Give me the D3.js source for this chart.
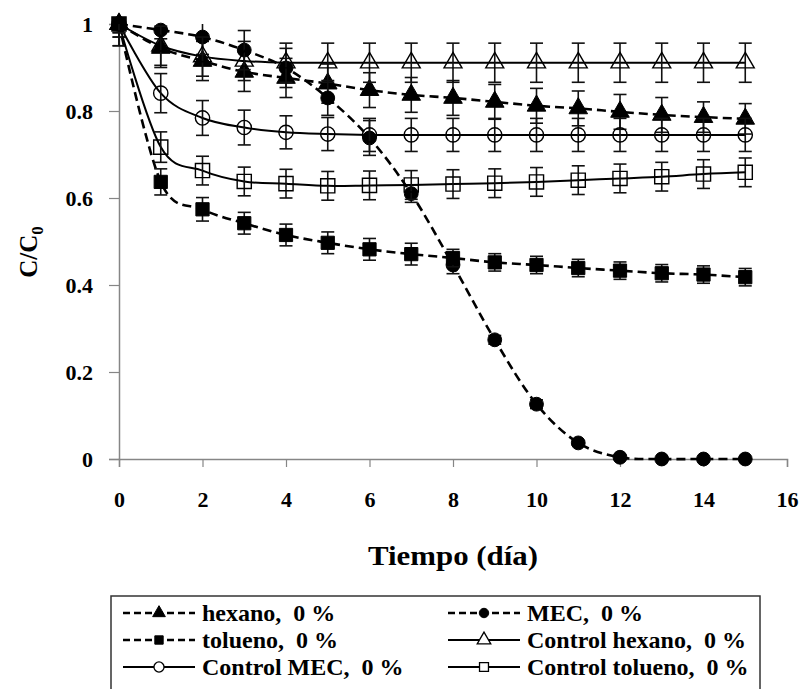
<!DOCTYPE html>
<html>
<head>
<meta charset="utf-8">
<script src="https://cdn.jsdelivr.net/npm/d3@7"></script>
<style>
  html, body { margin: 0; padding: 0; background: #fff; }
  svg { display: block; }
</style>
</head>
<body>
<div id="chart"></div>
<script>
// days sampled
const days = [0, 1, 2, 3, 4, 5, 6, 7, 8, 9, 10, 11, 12, 13, 14, 15];

// C/C0, one array per series
const hexano      = [1.0, 0.945, 0.915, 0.89, 0.876, 0.863, 0.848, 0.837, 0.83, 0.821, 0.812, 0.806, 0.798, 0.791, 0.786, 0.782];
const hexanoErr   = [0.05, 0.045, 0.045, 0.045, 0.045, 0.045, 0.04, 0.04, 0.04, 0.04, 0.04, 0.04, 0.04, 0.04, 0.035, 0.035];
const mec         = [1.0, 0.986, 0.97, 0.94, 0.899, 0.83, 0.738, 0.61, 0.446, 0.274, 0.126, 0.037, 0.004, 0.0, 0.0, 0.0];
const mecErr      = [0.03, 0.02, 0.04, 0.045, 0.045, 0.04, 0.04, 0.02, 0.02, 0.01, 0.01, 0.005, 0.005, 0.0, 0.0, 0.0];
const tolueno     = [1.0, 0.637, 0.574, 0.542, 0.515, 0.497, 0.482, 0.471, 0.462, 0.452, 0.446, 0.439, 0.433, 0.427, 0.424, 0.418];
const toluenoErr  = [0.05, 0.03, 0.027, 0.025, 0.025, 0.025, 0.025, 0.025, 0.02, 0.02, 0.02, 0.02, 0.02, 0.02, 0.02, 0.02];
const ctlHexano   = [1.0, 0.95, 0.925, 0.915, 0.911, 0.911, 0.911, 0.911, 0.911, 0.911, 0.911, 0.911, 0.911, 0.911, 0.911, 0.911];
const ctlHexErr   = [0.03, 0.045, 0.045, 0.045, 0.045, 0.045, 0.045, 0.045, 0.045, 0.045, 0.045, 0.045, 0.045, 0.045, 0.045, 0.045];
const ctlMec      = [1.0, 0.841, 0.784, 0.762, 0.751, 0.747, 0.745, 0.745, 0.745, 0.745, 0.745, 0.745, 0.745, 0.745, 0.745, 0.745];
const ctlMecErr   = [0.02, 0.045, 0.04, 0.04, 0.038, 0.038, 0.038, 0.038, 0.038, 0.038, 0.038, 0.038, 0.038, 0.038, 0.038, 0.038];
const ctlTolueno  = [1.0, 0.717, 0.663, 0.638, 0.633, 0.628, 0.629, 0.63, 0.632, 0.634, 0.637, 0.641, 0.645, 0.649, 0.655, 0.659];
const ctlTolErr   = [0.02, 0.035, 0.033, 0.033, 0.033, 0.033, 0.033, 0.033, 0.033, 0.033, 0.033, 0.033, 0.033, 0.033, 0.033, 0.033];

const xTicks = [0, 2, 4, 6, 8, 10, 12, 14, 16];
const yTicks = [0, 0.2, 0.4, 0.6, 0.8, 1];

const series = [
  { name: "hexano, 0 %", values: hexano, err: hexanoErr, dashed: true, symbol: "triangle", filled: true },
  { name: "MEC, 0 %", values: mec, err: mecErr, dashed: true, symbol: "circle", filled: true },
  { name: "tolueno, 0 %", values: tolueno, err: toluenoErr, dashed: true, symbol: "square", filled: true },
  { name: "Control hexano, 0 %", values: ctlHexano, err: ctlHexErr, dashed: false, symbol: "triangle", filled: false },
  { name: "Control MEC, 0 %", values: ctlMec, err: ctlMecErr, dashed: false, symbol: "circle", filled: false },
  { name: "Control tolueno, 0 %", values: ctlTolueno, err: ctlTolErr, dashed: false, symbol: "square", filled: false }
];

const width = 804, height = 689;
const serif = "'Liberation Serif', 'Times New Roman', serif";

const svg = d3.select("#chart").append("svg")
  .attr("width", width).attr("height", height);

const x = d3.scaleLinear().domain([0, 16]).range([119, 787]);
const y = d3.scaleLinear().domain([0, 1]).range([459, 24]);

svg.append("clipPath").attr("id", "plot-clip")
  .append("rect")
  .attr("x", x(0) - 10).attr("y", y(1))
  .attr("width", x(16) - x(0) + 20).attr("height", y(0) - y(1) + 2);

// axes
const axisColor = "#868686";
const xAxis = svg.append("g")
  .attr("transform", `translate(0,${y(0)})`)
  .call(d3.axisBottom(x).tickValues(xTicks).tickSize(8).tickPadding(40).tickFormat(d3.format("d")));
const yAxis = svg.append("g")
  .attr("transform", `translate(${x(0)},0)`)
  .call(d3.axisLeft(y).tickValues(yTicks).tickSize(10).tickPadding(16).tickFormat(d => d === 0 || d === 1 ? d : d3.format(".1f")(d)));

[xAxis, yAxis].forEach(g => {
  g.select(".domain").attr("stroke", axisColor).attr("stroke-width", 1.5);
  g.selectAll(".tick line").attr("stroke", axisColor).attr("stroke-width", 1.2);
  g.selectAll(".tick text")
    .attr("fill", "#000")
    .style("font-family", serif)
    .style("font-weight", "bold")
    .style("font-size", "22px");
});
xAxis.selectAll(".tick text").attr("dy", "0em");

// symbol paths
function symbolPath(kind, size) {
  const type = kind === "triangle" ? d3.symbolTriangle : kind === "circle" ? d3.symbolCircle : d3.symbolSquare;
  return d3.symbol().type(type).size(size)();
}
const markerSize = { triangle: 150, circle: 150, square: 175 };
const openSize = { triangle: 140, circle: 160, square: 200 };

const line = d3.line()
  .x((d, i) => x(days[i]))
  .y(d => y(d))
  .curve(d3.curveCatmullRom.alpha(0));

series.forEach(s => {
  const g = svg.append("g");

  g.append("path")
    .attr("d", line(s.values))
    .attr("fill", "none")
    .attr("stroke", "#000")
    .attr("stroke-width", s.dashed ? 2.6 : 2)
    .attr("stroke-dasharray", s.dashed ? "9,5" : null);

  const eb = g.append("g").attr("clip-path", "url(#plot-clip)")
    .selectAll("g").data(s.values.map((v, i) => ({ t: days[i], v, e: s.err[i] })).filter(d => d.e > 0))
    .join("g")
    .attr("stroke", "#111").attr("stroke-width", 1.6);
  eb.append("line")
    .attr("x1", d => x(d.t)).attr("x2", d => x(d.t))
    .attr("y1", d => y(d.v + d.e)).attr("y2", d => y(d.v - d.e));
  eb.append("line")
    .attr("x1", d => x(d.t) - 6.5).attr("x2", d => x(d.t) + 6.5)
    .attr("y1", d => y(d.v + d.e)).attr("y2", d => y(d.v + d.e));
  eb.append("line")
    .attr("x1", d => x(d.t) - 6.5).attr("x2", d => x(d.t) + 6.5)
    .attr("y1", d => y(d.v - d.e)).attr("y2", d => y(d.v - d.e));

  g.selectAll(".mk").data(s.values)
    .join("path").attr("class", "mk")
    .attr("transform", (d, i) => `translate(${x(days[i])},${y(d)})`)
    .attr("d", symbolPath(s.symbol, s.filled ? markerSize[s.symbol] : openSize[s.symbol]))
    .attr("fill", s.filled ? "#000" : "none")
    .attr("stroke", "#000")
    .attr("stroke-width", s.filled ? 1 : 1.4);
});

// axis titles
svg.append("text")
  .attr("x", (x(0) + x(16)) / 2).attr("y", 565)
  .attr("text-anchor", "middle")
  .style("font-family", serif).style("font-weight", "bold").style("font-size", "27px")
  .attr("textLength", 170).attr("lengthAdjust", "spacingAndGlyphs")
  .text("Tiempo (día)");

const yl = svg.append("text")
  .attr("transform", "translate(37,252) rotate(-90)")
  .attr("text-anchor", "middle")
  .style("font-family", serif).style("font-weight", "bold").style("font-size", "25px");
yl.append("tspan").text("C/C");
yl.append("tspan").attr("dy", 6).style("font-size", "17px").text("0");

// legend
const legend = svg.append("g");
legend.append("rect")
  .attr("x", 111).attr("y", 596).attr("width", 649).attr("height", 130)
  .attr("fill", "#fff").attr("stroke", "#333").attr("stroke-width", 1.5);

const legendCols = [123, 448];
const legendRows = [613, 640, 667];
series.forEach((s, i) => {
  const cx = legendCols[i % 2], cy = legendRows[Math.floor(i / 2)];
  const item = legend.append("g").attr("transform", `translate(${cx},${cy})`);
  item.append("line")
    .attr("x1", 0).attr("x2", 72).attr("y1", 0).attr("y2", 0)
    .attr("stroke", "#000").attr("stroke-width", s.dashed ? 2.6 : 2)
    .attr("stroke-dasharray", s.dashed ? "7,4" : null);
  item.append("path")
    .attr("transform", "translate(36,0)")
    .attr("d", symbolPath(s.symbol, s.filled ? 70 : 80))
    .attr("fill", s.filled ? "#000" : "#fff")
    .attr("stroke", "#000").attr("stroke-width", s.filled ? 1 : 1.3);
  item.append("text")
    .attr("x", 79).attr("y", 0).attr("dy", "0.34em")
    .style("font-family", serif).style("font-weight", "bold").style("font-size", "24px")
    .style("white-space", "pre")
    .text(s.name.replace(", ", ",  "));
});
</script>
</body>
</html>
